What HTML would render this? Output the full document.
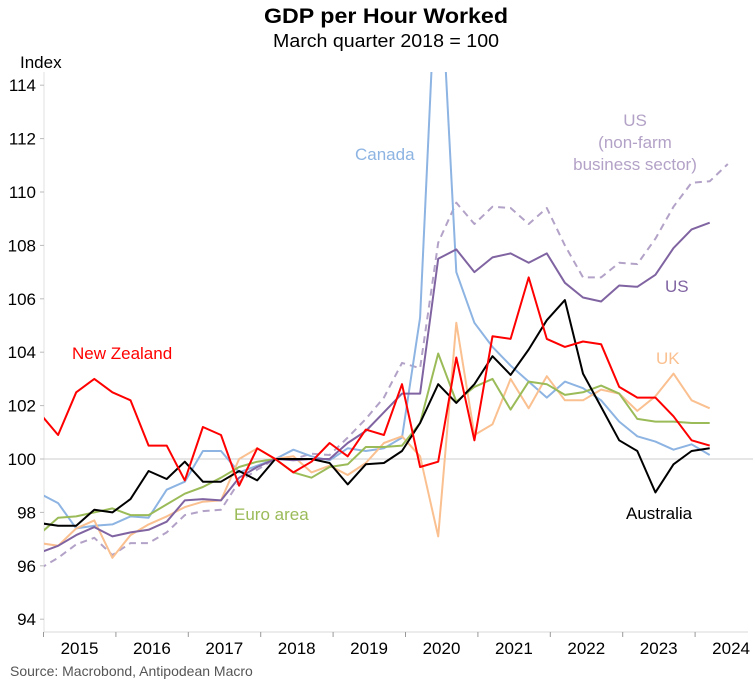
<!DOCTYPE html>
<html><head><meta charset="utf-8"><style>
html,body{margin:0;padding:0;background:#fff;}
svg{display:block;font-family:"Liberation Sans",Arial,sans-serif;}
</style></head><body>
<svg id="chart" width="753" height="687" viewBox="0 0 753 687">
<defs><clipPath id="plotclip"><rect x="44" y="72" width="709" height="560"/></clipPath></defs>
<text x="386" y="23" text-anchor="middle" font-size="21" font-weight="bold" textLength="244" lengthAdjust="spacingAndGlyphs">GDP per Hour Worked</text>
<text x="386" y="47" text-anchor="middle" font-size="18" textLength="226" lengthAdjust="spacingAndGlyphs">March quarter 2018 = 100</text>
<text x="20" y="68" font-size="17">Index</text>
<g id="axes"></g>
<g id="series" clip-path="url(#plotclip)"></g>
<g id="labels">
<text x="72" y="359" font-size="17" fill="#ff0000">New Zealand</text>
<text x="355" y="160" font-size="17" fill="#8db4e2">Canada</text>
<text x="234" y="520" font-size="17" fill="#9bbb59">Euro area</text>
<text x="626" y="519" font-size="17" fill="#000">Australia</text>
<text x="656" y="364" font-size="17" fill="#fac090">UK</text>
<text x="665" y="292" font-size="17" fill="#8064a2">US</text>
<text x="635" y="126" text-anchor="middle" font-size="17" fill="#b3a2c7"><tspan x="635">US</tspan><tspan x="635" dy="22">(non-farm</tspan><tspan x="635" dy="22">business sector)</tspan></text>
</g>
<text x="10" y="676" font-size="14" fill="#555">Source: Macrobond, Antipodean Macro</text>
</svg>
<script>
const yTicks = [94,96,98,100,102,104,106,108,110,112,114];
const years = ["2015","2016","2017","2018","2019","2020","2021","2022","2023","2024"];
const newZealand = [101.7,100.9,102.5,103.0,102.5,102.2,100.5,100.5,99.2,101.2,100.9,99.0,100.4,100,99.5,99.9,100.6,100.1,101.1,100.9,102.8,99.7,99.9,103.8,100.7,104.6,104.5,106.8,104.5,104.2,104.4,104.3,102.7,102.3,102.3,101.6,100.7,100.5];
const australia = [97.6,97.5,97.5,98.1,98.0,98.5,99.55,99.25,99.9,99.15,99.15,99.55,99.2,100,100.0,100.0,99.85,99.05,99.8,99.85,100.3,101.35,102.8,102.1,102.8,103.85,103.15,104.1,105.2,105.95,103.2,101.95,100.7,100.3,98.75,99.8,100.3,100.4];
const canada = [98.7,98.35,97.4,97.5,97.55,97.85,97.8,98.85,99.15,100.3,100.3,99.5,99.75,100,100.35,100.1,99.95,100.4,100.3,100.4,100.8,105.3,120,107.0,105.1,104.2,103.5,102.9,102.3,102.9,102.65,102.2,101.4,100.85,100.65,100.35,100.55,100.15];
const euroArea = [97.2,97.8,97.85,98.0,98.15,97.9,97.9,98.3,98.7,98.95,99.3,99.7,99.9,100,99.5,99.3,99.7,99.8,100.45,100.45,100.5,101.35,103.95,102.15,102.7,103.0,101.85,102.9,102.8,102.4,102.5,102.75,102.45,101.5,101.4,101.4,101.35,101.35];
const uk = [96.85,96.75,97.4,97.7,96.3,97.15,97.55,97.85,98.2,98.4,98.45,100.0,100.4,100,100.1,99.5,99.75,99.4,99.85,100.6,100.85,100.1,97.1,105.1,100.9,101.3,103.0,101.9,103.1,102.2,102.2,102.6,102.45,101.8,102.35,103.2,102.2,101.9];
const us = [96.5,96.75,97.15,97.45,97.1,97.25,97.35,97.65,98.45,98.5,98.45,99.3,99.7,100,99.95,100.0,100.0,100.6,101.05,101.75,102.45,102.45,107.5,107.85,107.0,107.55,107.7,107.35,107.7,106.6,106.05,105.9,106.5,106.45,106.9,107.9,108.6,108.85];
const usNonFarm = [95.9,96.3,96.8,97.05,96.4,96.85,96.85,97.25,97.9,98.05,98.1,99.15,99.6,100,100.0,100.2,100.15,100.8,101.5,102.3,103.6,103.4,108.1,109.6,108.8,109.45,109.4,108.8,109.4,108.0,106.8,106.8,107.35,107.3,108.25,109.45,110.35,110.4,111.05];

const NS = "http://www.w3.org/2000/svg";
function yScale(v){ return 459 - (v - 100) * 26.7; }
function xScale(k){ return 40 + 18.1 * k; }
const axes = document.getElementById('axes');
const series = document.getElementById('series');
function mk(tag, attrs, parent){ const e = document.createElementNS(NS, tag); for (const a in attrs) e.setAttribute(a, attrs[a]); parent.appendChild(e); return e; }

const yAxis = mk('line', {x1:44, y1:72, x2:44, y2:632, stroke:'#e0e0e0', 'stroke-width':1}, axes);


const xAxis = mk('line', {x1:44, y1:632, x2:748, y2:632, stroke:'#d9d9d9', 'stroke-width':1}, axes);


const base = mk('line', {x1:44, y1:yScale(100), x2:753, y2:yScale(100), stroke:'#cccccc', 'stroke-width':1}, axes);



yTicks.forEach(v => {
  const y = yScale(v);
  const tk = mk('line', {x1:40, y1:y, x2:44, y2:y, stroke:'#bbb'}, axes);
  
  
  const t = mk('text', {x:36, y:y+6, 'text-anchor':'end', 'font-size':17, fill:'#000'}, axes);
  t.textContent = v;
  
  
});
years.forEach((yr, i) => {
  const x0 = 43.5 + 72.4 * i;
  const tk = mk('line', {x1:x0, y1:632, x2:x0, y2:637, stroke:'#999'}, axes);
  
  
  const t = mk('text', {x:x0 + 36, y:654, 'text-anchor':'middle', 'font-size':17, fill:'#000'}, axes);
  t.textContent = yr;
  
  
});

function drawLine(data, color, name, dash){
  const pts = data.map((v, k) => xScale(k).toFixed(1) + ',' + yScale(v).toFixed(1)).join(' ');
  const attrs = {points:pts, fill:'none', stroke:color, 'stroke-width':2, 'stroke-linejoin':'round'};
  if (dash) attrs['stroke-dasharray'] = dash;
  const p = mk('polyline', attrs, series);
  
  
}
drawLine(usNonFarm, '#b3a2c7', 'us-nonfarm-line', '7,5');
drawLine(canada, '#8db4e2', 'canada-line');
drawLine(uk, '#fac090', 'uk-line');
drawLine(euroArea, '#9bbb59', 'euro-area-line');
drawLine(us, '#8064a2', 'us-line');
drawLine(australia, '#000000', 'australia-line');
drawLine(newZealand, '#ff0000', 'new-zealand-line');
</script>
</body></html>
